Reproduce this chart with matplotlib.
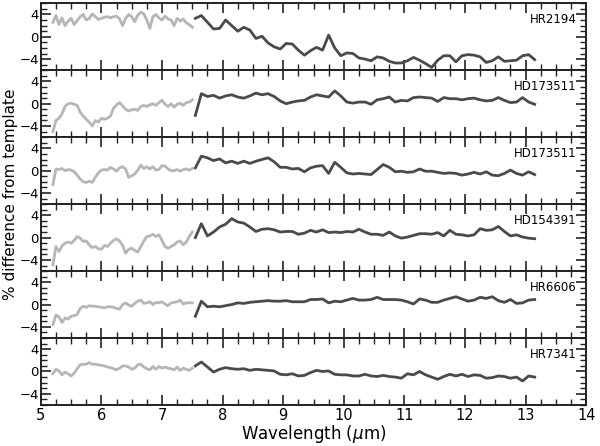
import numpy as np
import matplotlib
matplotlib.use("Agg")
import matplotlib.pyplot as plt
from matplotlib.ticker import MultipleLocator

# sampling grids (microns): short-wavelength part and long-wavelength part
wave_short = np.round(np.arange(5.20, 7.501, 0.05), 2)
wave_long = np.round(np.arange(7.55, 13.151, 0.1), 2)

stars = ["HR2194", "HD173511", "HD173511", "HD154391", "HR6606", "HR7341"]

# % difference from template, short part (light grey)
hr2194_short = [2.6, 3.8, 2.2, 3.4, 2.0, 2.8, 3.3, 2.2, 2.9, 3.6, 4.0, 3.0, 3.3, 4.1, 3.6, 3.1,
                3.3, 3.5, 3.6, 3.4, 3.6, 3.7, 3.2, 2.0, 3.3, 4.0, 3.6, 2.7, 3.9, 4.4, 4.1, 3.0,
                1.5, 3.6, 4.0, 3.4, 3.0, 3.7, 3.2, 3.0, 2.0, 3.3, 2.8, 3.2, 2.5, 2.2, 1.7]
hd173511a_short = [-5.0, -3.0, -2.6, -1.8, -0.5, 0.0, 0.1, -0.1, -0.3, -1.5, -2.2, -2.8, -3.3, -4.0, -3.0, -3.3,
                   -2.6, -2.8, -2.6, -2.2, -0.8, -0.2, 0.2, -0.4, -1.0, -1.3, -1.1, -1.0, -1.2, -0.5, -0.3, -0.5,
                   -0.2, 0.0, -0.3, 0.2, 0.6, -0.1, -0.5, 0.0, -0.6, -0.1, 0.1, -0.3, 0.2, 0.3, 0.7]
hd173511b_short = [-2.5, 0.3, 0.2, 0.4, 0.0, 0.2, 0.1, -0.2, -0.8, -1.5, -2.0, -2.1, -1.9, -2.1, -1.2, -0.4,
                   0.1, 0.2, 0.1, 0.6, 0.3, -0.1, 0.5, 0.7, 0.3, -1.2, -0.9, -0.6, 0.1, 1.0, 0.4, 0.7,
                   0.3, 0.7, 0.1, 0.2, 0.9, 0.8, 0.3, 0.0, 0.0, 0.2, -0.1, 0.2, 0.3, 0.1, 0.4]
hd154391_short = [-4.9, -1.6, -2.5, -1.5, -1.0, -0.8, -1.0, -0.5, 0.2, -0.1, -0.7, -0.6, -1.3, -1.8, -1.6, -2.0,
                  -2.1, -1.4, -1.6, -1.0, -0.5, -0.2, -0.6, -1.4, -2.8, -2.1, -1.9, -2.3, -2.6, -1.6, -0.6, 0.2,
                  0.3, 0.6, 0.2, 0.5, -0.5, -1.6, -1.9, -1.6, -1.3, -0.8, -0.6, -1.3, -0.8, 0.2, 1.0]
hr6606_short = [-3.6, -1.9, -2.2, -3.2, -2.4, -2.6, -2.1, -2.0, -1.8, -0.7, -0.3, -0.5, -0.2, -0.3, -0.3, -0.4,
                -0.5, -0.6, -0.4, -0.4, -0.5, -0.7, -0.8, 0.0, 0.3, -0.1, -0.3, 0.2, 0.6, 0.8, 0.2, 0.3,
                0.5, 0.0, 0.4, 0.3, 0.5, 0.1, -0.2, 0.3, 0.4, 0.5, 0.8, 0.1, 0.3, 0.3, 0.3]
hr7341_short = [-0.4, 0.4, 0.1, -0.6, -0.1, -0.4, -0.8, -0.3, 0.5, 1.2, 1.3, 1.3, 1.6, 1.3, 1.3, 1.2,
                1.1, 1.0, 0.8, 0.7, 0.5, 0.3, 0.6, 1.0, 1.0, 0.8, 0.4, 0.6, 1.2, 1.3, 0.8, 0.5,
                0.3, 0.9, 0.4, 0.9, 0.6, 0.8, 0.6, 0.5, 0.3, 0.8, 0.2, 0.6, 0.4, 0.2, 0.6]

# % difference from template, long part (dark grey)
hr2194_long = [3.3, 3.8, 2.6, 1.4, 1.5, 3.0, 2.0, 1.0, 1.7, 1.2, -0.3, 0.1, -1.1, -1.8, -2.2, -1.2,
               -1.3, -2.4, -3.3, -2.5, -1.9, -2.4, 0.3, -2.0, -3.4, -2.9, -3.0, -3.8, -4.0, -4.3, -3.6, -3.8,
               -4.4, -4.7, -4.7, -4.3, -3.7, -4.2, -4.8, -5.5, -4.2, -3.4, -3.4, -4.5, -3.4, -3.2, -3.3, -3.6,
               -4.6, -4.3, -3.6, -4.4, -4.3, -4.2, -3.4, -3.2, -4.1]
hd173511a_long = [-2.1, 1.8, 1.3, 1.5, 1.0, 1.4, 1.6, 1.2, 1.0, 1.4, 1.9, 1.6, 1.8, 1.3, 0.5, 0.0,
                  0.3, 0.5, 0.6, 1.2, 1.6, 1.4, 1.2, 2.3, 1.4, 0.3, 0.1, 0.3, 0.3, -0.1, 0.7, 0.9,
                  1.2, 0.3, 0.6, 0.5, 1.1, 1.2, 1.1, 1.0, 0.4, 1.1, 0.9, 0.9, 0.7, 0.9, 1.0, 0.7,
                  0.5, 0.6, 1.1, 0.6, 0.2, 0.3, 1.1, 0.3, -0.1]
hd173511b_long = [0.5, 2.6, 2.3, 1.8, 2.1, 1.4, 1.7, 1.3, 1.7, 1.3, 1.7, 2.0, 2.3, 1.6, 0.6, 0.6,
                  0.3, 0.4, -0.2, 0.5, 0.8, 0.9, -0.5, 1.5, 0.6, -0.4, -0.6, -0.5, -0.6, -0.7, 0.2, 1.1,
                  0.6, -0.2, -0.1, -0.3, -0.2, 0.3, -0.1, -0.1, -0.3, -0.5, -0.4, -0.5, -0.8, -0.6, -0.3, -0.6,
                  -0.2, -0.8, -0.9, -0.5, 0.1, -0.5, -0.8, -0.2, -0.7]
hd154391_long = [0.0, 2.5, 0.3, 1.0, 1.9, 2.4, 3.4, 2.8, 2.6, 1.9, 1.1, 1.5, 1.6, 1.4, 1.0, 1.1,
                 1.1, 0.6, 0.8, 1.3, 1.0, 1.4, 0.9, 1.0, 0.9, 1.1, 1.0, 1.5, 1.0, 0.6, 0.6, 0.4,
                 1.0, 0.3, -0.1, 0.1, 0.4, 0.7, 0.7, 0.6, 0.9, 0.3, 1.3, 0.6, 0.5, 0.3, 0.5, 1.6,
                 1.3, 1.4, 2.0, 1.1, 0.3, 0.5, 0.1, -0.1, -0.2]
hr6606_long = [-2.1, 0.6, -0.4, -0.3, -0.4, -0.2, 0.0, 0.3, 0.2, 0.4, 0.5, 0.6, 0.7, 0.6, 0.6, 0.7,
               0.5, 0.5, 0.5, 0.9, 0.9, 1.0, 0.3, 0.6, 0.5, 0.8, 1.1, 0.8, 0.8, 0.9, 1.3, 0.9,
               0.9, 0.9, 0.8, 0.5, 0.1, 1.0, 0.8, 0.4, 0.4, 0.8, 1.1, 1.4, 1.0, 0.6, 0.8, 1.3,
               1.1, 1.4, 0.7, 0.4, 0.9, 0.2, 0.3, 0.8, 0.9]
hr7341_long = [1.0, 1.7, 0.8, -0.1, 0.4, 0.7, 0.5, 0.4, 0.5, 0.2, 0.4, 0.3, 0.2, 0.1, -0.5, -0.6,
               -0.4, -0.8, -0.7, -0.2, 0.2, 0.0, 0.1, -0.5, -0.6, -0.6, -0.8, -0.8, -0.5, -0.8, -0.9, -0.7,
               -0.9, -1.0, -1.2, -0.4, -0.6, 0.0, -0.6, -1.0, -1.4, -0.9, -0.5, -0.8, -0.5, -0.9, -0.6, -0.7,
               -1.2, -1.1, -0.8, -0.9, -1.2, -1.0, -1.7, -0.8, -1.0]

short_data = [hr2194_short, hd173511a_short, hd173511b_short, hd154391_short, hr6606_short, hr7341_short]
long_data = [hr2194_long, hd173511a_long, hd173511b_long, hd154391_long, hr6606_long, hr7341_long]

light = "#b6b6b6"
dark = "#4a4a4a"
edge = "#222222"

fig, axes = plt.subplots(6, 1, sharex=True, figsize=(6.0, 4.46), dpi=100)
fig.subplots_adjust(left=0.068, right=0.977, top=0.9926, bottom=0.092, hspace=0)

for ax, name, ys, yl in zip(axes, stars, short_data, long_data):
    ax.plot(wave_short, ys, color=light, lw=2.0, solid_joinstyle="round")
    ax.plot(wave_long, yl, color=dark, lw=2.0, solid_joinstyle="round")
    ax.set_xlim(5, 14)
    ax.set_ylim(-6, 6)
    ax.yaxis.set_major_locator(MultipleLocator(4))
    ax.yaxis.set_minor_locator(MultipleLocator(1))
    ax.xaxis.set_major_locator(MultipleLocator(1))
    ax.xaxis.set_minor_locator(MultipleLocator(0.25))
    ax.tick_params(which="both", direction="in", top=True, right=True, colors=edge)
    ax.tick_params(which="major", length=7, width=1.2)
    ax.tick_params(which="minor", length=4, width=1.0)
    ax.tick_params(axis="y", labelsize=9.5, pad=1.5, labelcolor="black")
    ax.tick_params(axis="x", labelsize=10.5, pad=2.0, labelcolor="black")
    for sp in ax.spines.values():
        sp.set_linewidth(1.4)
        sp.set_color(edge)
    ax.text(0.982, 0.76, name, transform=ax.transAxes, ha="right", va="center", fontsize=8.5)

fig.text(0.017, 0.565, "% difference from template", rotation=90, ha="center", va="center", fontsize=11)
fig.text(0.522, 0.002, r"Wavelength ($\mu$m)", ha="center", va="bottom", fontsize=12)

fig.savefig("out.png", dpi=100)
